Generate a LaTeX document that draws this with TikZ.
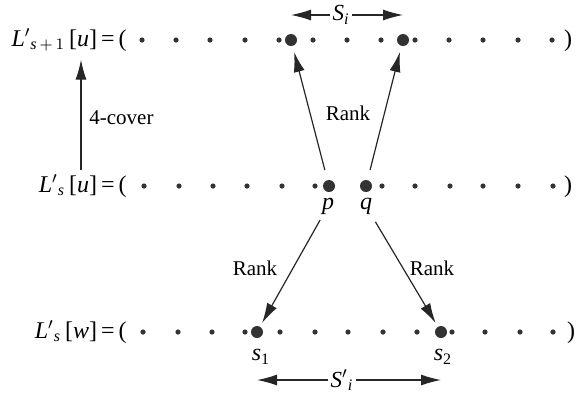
\documentclass[tikz,border=0pt]{standalone}
\usepackage{amsmath}
\usepackage{fontspec}
\setmainfont{Liberation Serif}
\usetikzlibrary{arrows.meta,calc}

\tikzset{
  sdot/.style={circle,fill=black!80,inner sep=0pt,minimum size=2.6pt},
  bdot/.style={circle,fill=black!80,inner sep=0pt,minimum size=6pt},
  rowlab/.style={font=\fontsize{12}{14}\selectfont,anchor=base east,inner sep=1pt},
  lab/.style={font=\fontsize{10.5}{12}\selectfont,inner sep=1pt},
  arr/.style={draw=black!85,line width=0.6pt,-{Latex[length=10pt,width=5.5pt]}},
}

\begin{document}
\begin{tikzpicture}[x={(0.5pt,0)},y={(0,-0.5pt)}]
\useasboundingbox (0,0) rectangle (578,393);
%% Row labels
\node[rowlab] (lab1) at (129,46) {\textit{L}$'{}_{\textit{s}\,+\,1}$\,[\textit{u}]\,=\,(};
\node[rowlab] (lab2) at (129,192) {\textit{L}$'{}_{\textit{s}}$\,[\textit{u}]\,=\,(};
\node[rowlab] (lab3) at (129,338) {\textit{L}$'{}_{\textit{s}}$\,[\textit{w}]\,=\,(};
\node[rowlab,anchor=base] (rp1) at (568,46) {)};
\node[rowlab,anchor=base] (rp2) at (568,192) {)};
\node[rowlab,anchor=base] (rp3) at (571,338) {)};
%% Row 1: L'_{s+1}[u]
\foreach \x in {142,176,210,245,279,313,347,381,415,449,483,518,552}
  \node[sdot] at (\x,40) {};
\node[bdot] (a) at (291,40) {};
\node[bdot] (b) at (403,40) {};
%% Row 2: L'_s[u]
\foreach \x in {144,179,213,247,282,315,382,415,450,483,518,553}
  \node[sdot] at (\x,186) {};
\node[bdot] (p) at (329,186) {};
\node[bdot] (q) at (366,186) {};
\node[lab,font=\fontsize{12}{14}\selectfont] (plab) at (328,206) {\textit{p}};
\node[lab,font=\fontsize{12}{14}\selectfont] (qlab) at (366,206) {\textit{q}};
%% Row 3: L'_s[w]
\foreach \x in {143,178,212,245,280,315,348,383,417,452,485,520,553}
  \node[sdot] at (\x,332) {};
\node[bdot] (s1) at (257,332) {};
\node[bdot] (s2) at (441,332) {};
\node[lab,font=\fontsize{12}{14}\selectfont] (s1lab) at (261,357) {\textit{s}\textsubscript{1}};
\node[lab,font=\fontsize{12}{14}\selectfont] (s2lab) at (443,357) {\textit{s}\textsubscript{2}};
%% Samples
\node[lab,font=\fontsize{11.5}{14}\selectfont] (Si) at (341,15) {\textit{S}$_{\textit{i}}$};
\node[lab,font=\fontsize{11.5}{14}\selectfont] (Sp) at (342,380) {\textit{S}$'{}_{\textit{i}}$};
\draw[arr] (Si) -- (Si -| a);
\draw[arr] (Si) -- (Si -| b);
\draw[arr] (Sp) -- (Sp -| s1);
\draw[arr] (Sp) -- (Sp -| s2);
%% Rank arrows
\draw[arr,shorten <=5pt,shorten >=3pt] (p) -- (a);
\draw[arr,shorten <=5pt,shorten >=3pt] (q) -- (b);
\draw[arr,shorten <=2pt,shorten >=2pt] (plab) -- (s1);
\draw[arr,shorten <=3pt,shorten >=2pt] (qlab) -- (s2);
\node[lab] (rk1) at (348,113) {Rank};
\node[lab] (rk2) at (255,268) {Rank};
\node[lab] (rk3) at (432,268) {Rank};
%% 4-cover
\coordinate (cov) at (81,0);
\draw[arr,shorten <=1pt,shorten >=3pt] (lab2.north -| cov) -- (lab1.south -| cov);
\node[lab,anchor=west] (cv) at (87,118) {4-cover};
\end{tikzpicture}
\end{document}
